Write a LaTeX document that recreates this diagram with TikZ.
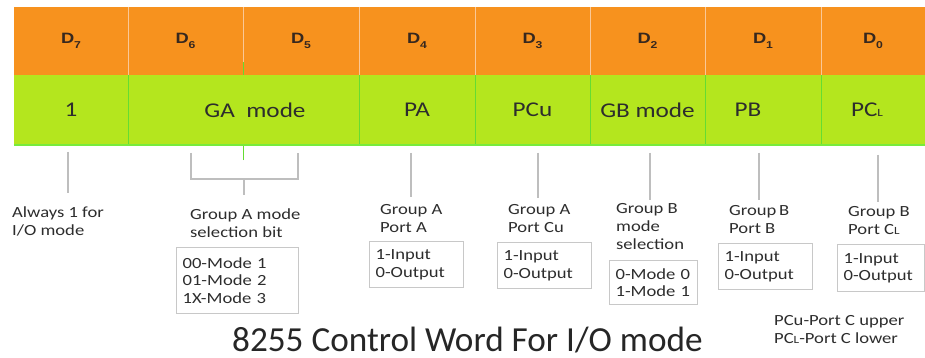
\documentclass[tikz,border=0pt]{standalone}
\usepackage{fontspec}
\setmainfont{Carlito}
\newfontfamily\labfont{Carlito}[FakeStretch=1.2]
\newfontfamily\dfont{Liberation Sans}[FakeStretch=1.22]
\definecolor{orng}{RGB}{247,146,30}
\definecolor{lime}{RGB}{180,230,30}
\definecolor{gsep}{RGB}{100,220,50}
\definecolor{osepc}{RGB}{250,200,150}
\definecolor{gbord}{RGB}{120,235,60}
\definecolor{connc}{RGB}{190,190,190}
\definecolor{boxc}{RGB}{200,200,200}
\definecolor{txt}{RGB}{45,45,45}
\definecolor{dtxt}{RGB}{55,40,30}
\newcommand{\dsub}[1]{D\raisebox{-5pt}{\fontsize{10}{10}\selectfont #1}}
\newcommand{\smallL}{{\fontsize{11}{11}\selectfont L}}
\tikzset{
  ocell/.style={fill=orng, draw=none, inner sep=0pt, minimum height=68pt, text=dtxt,
    font=\dfont\bfseries\fontsize{15}{15}\selectfont},
  gcell/.style={fill=lime, draw=none, inner sep=0pt, minimum height=70pt, text=txt,
    font=\labfont\fontsize{21}{21}\selectfont},
  osep/.style={draw=osepc, line width=1pt},
  gsepl/.style={draw=gsep, line width=1.2pt},
  conn/.style={draw=connc, line width=2.6pt},
  lab/.style={anchor=base west, align=left, inner sep=0pt, text=txt,
    font=\labfont\fontsize{15.5}{18}\selectfont},
  bx/.style={draw=boxc, line width=1.2pt, inner xsep=6pt, inner ysep=0pt, align=left,
    anchor=north west, text=txt, font=\labfont\fontsize{15.5}{17.5}\selectfont},
}
\begin{document}
\begin{tikzpicture}[x=1pt,y=-1pt]
\fill[white] (0,0) rectangle (925,358);
\useasboundingbox (0,0) rectangle (925,358);
% orange row
\node[ocell, minimum width=114pt] (o7) at (71,41) {\dsub{7}};
\node[ocell, minimum width=115pt] (o6) at (185.5,41) {\dsub{6}};
\node[ocell, minimum width=116pt] (o5) at (301,41) {\dsub{5}};
\node[ocell, minimum width=116pt] (o4) at (417,41) {\dsub{4}};
\node[ocell, minimum width=115pt] (o3) at (532.5,41) {\dsub{3}};
\node[ocell, minimum width=115pt] (o2) at (647.5,41) {\dsub{2}};
\node[ocell, minimum width=116pt] (o1) at (763,41) {\dsub{1}};
\node[ocell, minimum width=104pt] (o0) at (873,41) {\dsub{0}};
% green row
\node[gcell, minimum width=114pt] (g7) at (71,110) {1};
\node[gcell, minimum width=231pt] (gA) at (243.5,110) {\hspace*{23pt}GA\ \ mode};
\node[gcell, minimum width=116pt] (g4) at (417,110) {PA};
\node[gcell, minimum width=115pt] (g3) at (532.5,110) {PCu};
\node[gcell, minimum width=115pt] (g2) at (647.5,110) {GB mode};
\node[gcell, minimum width=116pt] (g1) at (763,110) {PB\hspace*{30pt}};
\node[gcell, minimum width=104pt] (g0) at (873,110) {PC\smallL\hspace*{12pt}};
% separators
\foreach \n in {o7,o6,o5,o4,o3,o2,o1} \draw[osep] (\n.north east) -- (\n.south east);
\foreach \n in {g7,gA,g4,g3,g2,g1} \draw[gsepl] (\n.north east) -- (\n.south east);
\coordinate (gm1) at ([yshift=13pt]o6.south east);
\coordinate (gm2) at ([yshift=-15pt]gA.south);
\draw[gsepl] (o6.south east) -- (gm1);
\draw[gsepl] (gm2) -- (gA.south);
\draw[draw=gbord, line width=2.5pt] (g7.south west) -- (g0.south east);
% connectors
\coordinate (c7t) at (68,152); \coordinate (c7b) at (68,193);
\draw[conn] (c7t) -- (c7b);
\coordinate (brl) at (191,153); \coordinate (brr) at (298,153);
\coordinate (brs) at (244,179); \coordinate (brb) at (244,195);
\draw[conn] (brl) -- (brl |- brs) -- (brr |- brs) -- (brr);
\draw[conn] (brs) -- (brb);
\coordinate (c4t) at (411,153); \coordinate (c4b) at (411,197);
\draw[conn] (c4t) -- (c4b);
\coordinate (c3t) at (538,153); \coordinate (c3b) at (538,198);
\draw[conn] (c3t) -- (c3b);
\coordinate (c2t) at (650,153); \coordinate (c2b) at (650,200);
\draw[conn] (c2t) -- (c2b);
\coordinate (c1t) at (759,153); \coordinate (c1b) at (759,200);
\draw[conn] (c1t) -- (c1b);
\coordinate (c0t) at (878,155); \coordinate (c0b) at (878,202);
\draw[conn] (c0t) -- (c0b);
% labels (anchor = baseline of last line)
\node[lab] (l7) at (12,235) {Always 1 for\\I/O mode};
\node[lab] (lA) at (190,237) {Group A mode\\selection bit};
\node[lab] (l4) at (380,232) {Group A\\Port A};
\node[lab] (l3) at (508,232) {Group A\\Port Cu};
\node[lab] (l2) at (616,249) {Group B\\mode\\selection};
\node[lab] (l1) at (729,233) {Group\,B\\Port B};
\node[lab] (l0) at (848,234) {Group B\\Port C\smallL};
% boxes
\node[bx, text width=110pt, minimum height=66pt] (bA) at (176,247) {00-Mode 1\\01-Mode 2\\1X-Mode 3};
\node[bx, text width=82pt, minimum height=46pt] (b4) at (369,241) {1-Input\\0-Output};
\node[bx, text width=82pt, minimum height=46pt] (b3) at (497,242) {1-Input\\0-Output};
\node[bx, text width=76pt, minimum height=44pt] (b2) at (609,260) {0-Mode 0\\1-Mode 1};
\node[bx, text width=82pt, minimum height=46pt] (b1) at (718,243) {1-Input\\0-Output};
\node[bx, text width=75pt, minimum height=47pt] (b0) at (837,244) {1-Input\\0-Output};
% note and title
\node[lab] (note) at (774,343) {PCu-Port C upper\\PC\smallL-Port C lower};
\node[anchor=base west, inner sep=0pt, text=black!85, font=\fontsize{35.2}{40}\selectfont] (title) at (232,351) {8255 Control Word For I/O mode};
\end{tikzpicture}
\end{document}
